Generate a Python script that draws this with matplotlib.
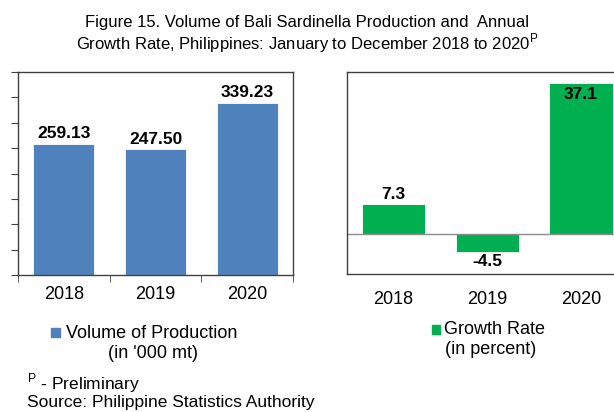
import matplotlib.pyplot as plt

years = ['2018', '2019', '2020']
volume = [259.13, 247.50, 339.23]
growth = [7.3, -4.5, 37.1]
volume_labels = ['259.13', '247.50', '339.23']
growth_labels = ['7.3', '-4.5', '37.1']

plt.rcParams['font.family'] = ['Liberation Sans', 'DejaVu Sans']

blue = '#4F81BD'
green = '#00B050'
frame = '#404040'

fig = plt.figure(figsize=(6.14, 4.12), dpi=100)

# volume chart
ax1 = fig.add_axes([0.0293, 0.3325, 0.448, 0.4927])
x = range(len(years))
ax1.bar(x, volume, width=0.667, color=blue, edgecolor='white', linewidth=0.6)
ax1.set_xlim(-0.5, 2.5)
ax1.set_ylim(0, 400)
ax1.set_yticks(range(0, 401, 50))
ax1.set_yticklabels([])
ax1.tick_params(axis='y', direction='out', length=5, color=frame)
ax1.set_xticks(list(x))
ax1.set_xticklabels(years, fontsize=13)
ax1.set_xticks([-0.5, 0.5, 1.5, 2.5], minor=True)
ax1.tick_params(axis='x', which='major', length=0, pad=8)
ax1.tick_params(axis='x', which='minor', direction='out', length=5, color=frame)
for s in ax1.spines.values():
    s.set_color(frame)
    s.set_linewidth(1)
for i, v in enumerate(volume):
    ax1.text(i, v + 5, volume_labels[i], ha='center', va='bottom',
             fontsize=12.5, fontweight='bold')

# growth chart
ax2 = fig.add_axes([0.5647, 0.335, 0.4577, 0.491])
ax2.bar(x, growth, width=0.675, color=green, edgecolor='white', linewidth=0.6)
ax2.axhline(0, color='#8C8C8C', linewidth=1)
ax2.set_xlim(-0.5, 2.5)
ax2.set_ylim(-10, 40)
ax2.set_yticks([])
ax2.set_xticks(list(x))
ax2.set_xticklabels(years, fontsize=13)
ax2.tick_params(axis='x', length=0, pad=12)
for s in ax2.spines.values():
    s.set_color(frame)
    s.set_linewidth(1)
ax2.text(0, growth[0] + 0.6, growth_labels[0], ha='center', va='bottom',
         fontsize=12.5, fontweight='bold')
ax2.text(1, growth[1] - 0.6, growth_labels[1], ha='center', va='top',
         fontsize=12.5, fontweight='bold')
ax2.text(2, growth[2] - 0.9, growth_labels[2], ha='center', va='top',
         fontsize=12.5, fontweight='bold')

# title
fig.text(0.5, 1 - 22 / 412, 'Figure 15. Volume of Bali Sardinella Production and  Annual',
         ha='center', va='center', fontsize=12)
fig.text(0.5, 1 - 43 / 412, 'Growth Rate, Philippines: January to December 2018 to 2020$^{\\mathregular{P}}$',
         ha='center', va='center', fontsize=12)

# legends
fig.patches.append(plt.Rectangle((51 / 614, 1 - 337 / 412), 9 / 614, 9 / 412,
                                 transform=fig.transFigure, color=blue))
fig.text(66 / 614, 1 - 333 / 412, 'Volume of Production', ha='left', va='center', fontsize=13)
fig.text(153 / 614, 1 - 353 / 412, "(in '000 mt)", ha='center', va='center', fontsize=13)
fig.patches.append(plt.Rectangle((432 / 614, 1 - 334 / 412), 8 / 614, 9 / 412,
                                 transform=fig.transFigure, color=green))
fig.text(444 / 614, 1 - 330 / 412, 'Growth Rate', ha='left', va='center', fontsize=13)
fig.text(445 / 614, 1 - 350 / 412, '(in percent)', ha='left', va='center', fontsize=13)

# notes
fig.text(27 / 614, 1 - 383 / 412, '$^{\\mathregular{P}}$ - Preliminary', ha='left', va='center', fontsize=12.5)
fig.text(27 / 614, 1 - 403 / 412, 'Source: Philippine Statistics Authority', ha='left', va='center', fontsize=12.5)

fig.savefig('out.png', dpi=100)
